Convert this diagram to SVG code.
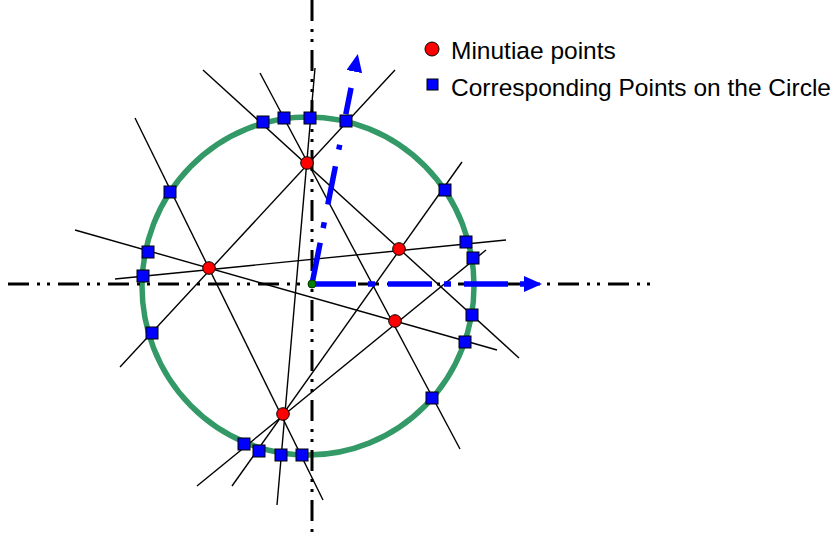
<svg xmlns="http://www.w3.org/2000/svg" width="836" height="537" viewBox="0 0 836 537">
<style>
.ln{stroke:#000;stroke-width:1.4;fill:none}
.ax{stroke:#000;stroke-width:3;fill:none;stroke-dasharray:21 8 3 7 3 8}
.bl{stroke:#0000ff;stroke-width:5.5;fill:none}
.sq{fill:#0000ff;stroke:#000;stroke-width:1}
.mn{fill:#ff0000;stroke:#000;stroke-width:1}
.lg{font-family:"Liberation Sans",Arial,sans-serif;font-size:24.5px;fill:#000}
</style>
<defs>
<marker id="ah" viewBox="0 0 18 16" refX="0" refY="8" markerWidth="18" markerHeight="16" markerUnits="userSpaceOnUse" orient="auto">
<path d="M0,0 L18,8 L0,16 z" fill="#0000ff"/>
</marker>
</defs>
<rect width="836" height="537" fill="#fff"/>
<g id="circle">
<ellipse cx="308" cy="286" rx="166" ry="169" fill="none" stroke="#339966" stroke-width="5.5"/>
</g>
<g id="connectors">
<line class="ln" x1="395" y1="70" x2="120" y2="367"/>
<line class="ln" x1="203" y1="70" x2="519" y2="358"/>
<line class="ln" x1="260" y1="73" x2="460" y2="449"/>
<line class="ln" x1="315" y1="68" x2="277" y2="505"/>
<line class="ln" x1="135" y1="118" x2="323" y2="500"/>
<line class="ln" x1="75" y1="230" x2="497" y2="350"/>
<line class="ln" x1="115" y1="279" x2="506" y2="240"/>
<line class="ln" x1="232" y1="486" x2="462" y2="162"/>
<line class="ln" x1="197" y1="486" x2="486" y2="250"/>
</g>
<g id="axes">
<line class="ax" x1="8" y1="284" x2="653" y2="284"/>
<line class="ax" x1="312" y1="0" x2="312" y2="537"/>
</g>
<g id="arrows">
<line class="bl" x1="312" y1="284" x2="524" y2="284" stroke-dasharray="44 12 7 13" marker-end="url(#ah)"/>
<line class="bl" x1="312" y1="284" x2="354.3" y2="71.6" stroke-dasharray="42 15 6 18 39 17 5 31 27 100" marker-end="url(#ah)"/>
</g>
<g id="squares">
<rect class="sq" x="340" y="115" width="12" height="12"/>
<rect class="sq" x="146" y="327" width="12" height="12"/>
<rect class="sq" x="257" y="116" width="12" height="12"/>
<rect class="sq" x="466" y="309" width="12" height="12"/>
<rect class="sq" x="278" y="112" width="12" height="12"/>
<rect class="sq" x="426" y="392" width="12" height="12"/>
<rect class="sq" x="304" y="112" width="12" height="12"/>
<rect class="sq" x="275" y="449" width="12" height="12"/>
<rect class="sq" x="164" y="186" width="12" height="12"/>
<rect class="sq" x="296" y="449" width="12" height="12"/>
<rect class="sq" x="142" y="246" width="12" height="12"/>
<rect class="sq" x="459" y="336" width="12" height="12"/>
<rect class="sq" x="137" y="270" width="12" height="12"/>
<rect class="sq" x="460" y="236" width="12" height="12"/>
<rect class="sq" x="253" y="445" width="12" height="12"/>
<rect class="sq" x="439" y="184" width="12" height="12"/>
<rect class="sq" x="238" y="438" width="12" height="12"/>
<rect class="sq" x="467" y="252" width="12" height="12"/>
</g>
<g id="minutiae">
<circle class="mn" cx="307" cy="163" r="6.3"/>
<circle class="mn" cx="209" cy="268" r="6.3"/>
<circle class="mn" cx="395" cy="321" r="6.3"/>
<circle class="mn" cx="283" cy="414" r="6.3"/>
<circle class="mn" cx="399" cy="249" r="6.3"/>
</g>
<g id="origin">
<circle cx="312" cy="284" r="4" fill="#008000" stroke="#003300" stroke-width="1"/>
</g>
<g id="legend">
<circle class="mn" cx="432" cy="49" r="7"/>
<text class="lg" x="451" y="59">Minutiae points</text>
<rect class="sq" x="427" y="79" width="11" height="11"/>
<text class="lg" x="451" y="96">Corresponding Points on the Circle</text>
</g>
</svg>
